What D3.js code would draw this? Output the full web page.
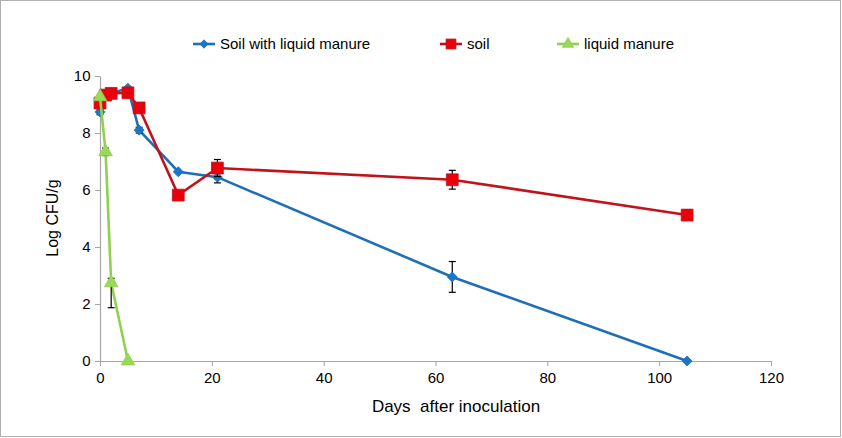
<!DOCTYPE html>
<html><head><meta charset="utf-8">
<script src="https://cdn.jsdelivr.net/npm/d3@7"></script>
<style>body{margin:0;background:#fff}svg{display:block}</style>
</head><body>
<svg id="c" width="842" height="438"></svg>
<script>
const seriesNames = ["Soil with liquid manure", "soil", "liquid manure"];
const blueDays = [0, 1, 2, 5, 7, 14, 21, 63, 105];
const blueVals = [8.74, 9.3, 9.4, 9.57, 8.1, 6.64, 6.45, 2.95, 0];
const blueErr  = [0.1, 0.05, 0.05, 0.05, 0.1, 0.05, 0.2, 0.54, 0];
const redDays = [0, 1, 2, 5, 7, 14, 21, 63, 105];
const redVals = [9.05, 9.33, 9.39, 9.41, 8.88, 5.82, 6.77, 6.36, 5.12];
const redErr  = [0.1, 0.05, 0.05, 0.05, 0.1, 0.1, 0.3, 0.33, 0.18];
const greenDays = [0, 1, 2, 5];
const greenVals = [9.27, 7.34, 2.74, 0];
const greenErrUp = [0.05, 0.13, 0.16, 0];
const greenErrDown = [0.05, 0.13, 0.87, 0];
const xTicks = [0, 20, 40, 60, 80, 100, 120];
const yTicks = [0, 2, 4, 6, 8, 10];

const svg = d3.select("#c");
const font = "'Liberation Sans', Arial, sans-serif";
svg.append("rect").attr("x",0.5).attr("y",0.5).attr("width",840).attr("height",436)
  .attr("fill","#fff").attr("stroke","#b0b0b0");

const x = d3.scaleLinear().domain([0,120]).range([100,771]);
const y = d3.scaleLinear().domain([0,10]).range([361,76]);

const xAxis = svg.append("g").attr("transform","translate(0,361)")
  .call(d3.axisBottom(x).tickValues(xTicks).tickSize(5).tickSizeOuter(0));
const yAxis = svg.append("g").attr("transform","translate(100,0)")
  .call(d3.axisLeft(y).tickValues(yTicks).tickSize(5).tickSizeOuter(0));
[xAxis,yAxis].forEach(a=>{
  a.select(".domain").attr("stroke","#a6a6a6").attr("stroke-width",1.2);
  a.selectAll(".tick line").attr("stroke","#a6a6a6");
  a.selectAll("text").attr("font-family",font).attr("font-size",15).attr("fill","#000");
});
xAxis.selectAll("text").attr("dy","0.95em");
yAxis.selectAll("text").attr("dx","-0.1em");

svg.append("text").attr("x",456).attr("y",412).attr("text-anchor","middle")
  .attr("font-family",font).attr("font-size",17).attr("xml:space","preserve")
  .text("Days  after inoculation");
svg.append("text").attr("transform","translate(58,218) rotate(-90)").attr("text-anchor","middle")
  .attr("font-family",font).attr("font-size",16).text("Log CFU/g");

const series = [
  {name:seriesNames[0], days:blueDays, vals:blueVals, up:blueErr, down:blueErr, line:"#1f6fb8", fill:"#1b75c9", sym:d3.symbolSquare, size:50, rot:45},
  {name:seriesNames[1], days:redDays, vals:redVals, up:redErr, down:redErr, line:"#c0141c", fill:"#e8000b", sym:d3.symbolSquare, size:140, rot:0},
  {name:seriesNames[2], days:greenDays, vals:greenVals, up:greenErrUp, down:greenErrDown, line:"#8fd14f", fill:"#9bd85a", sym:d3.symbolTriangle, size:80, rot:0}
];

const line = d3.line().x(d=>x(d[0])).y(d=>y(d[1]));
series.forEach(s=>{
  const pts = s.days.map((d,i)=>[d, s.vals[i], s.up[i], s.down[i]]);
  const g = svg.append("g");
  g.append("path").datum(pts).attr("d",line).attr("fill","none").attr("stroke",s.line).attr("stroke-width",2.6);
  pts.filter(p=>p[2]>0.08||p[3]>0.08).forEach(p=>{
    const cx = x(p[0]), t = y(p[1]+p[2]), b = y(p[1]-p[3]);
    g.append("line").attr("x1",cx).attr("x2",cx).attr("y1",t).attr("y2",b).attr("stroke","#000").attr("stroke-width",1.2);
    g.append("line").attr("x1",cx-3.5).attr("x2",cx+3.5).attr("y1",t).attr("y2",t).attr("stroke","#000").attr("stroke-width",1.2);
    g.append("line").attr("x1",cx-3.5).attr("x2",cx+3.5).attr("y1",b).attr("y2",b).attr("stroke","#000").attr("stroke-width",1.2);
  });
  g.selectAll("path.m").data(pts).join("path").attr("class","m")
    .attr("d",d3.symbol().type(s.sym).size(s.size))
    .attr("transform",p=>`translate(${x(p[0])},${y(p[1])}) rotate(${s.rot})`)
    .attr("fill",s.fill).attr("stroke",s.line).attr("stroke-width",0.8);
});

const legX = [193, 440, 557];
series.forEach((s,i)=>{
  const lx = legX[i], ly = 44;
  svg.append("line").attr("x1",lx).attr("x2",lx+22).attr("y1",ly).attr("y2",ly).attr("stroke",s.line).attr("stroke-width",2.6);
  svg.append("path").attr("d",d3.symbol().type(s.sym).size(s.size*0.7)).attr("transform",`translate(${lx+11},${ly}) rotate(${s.rot})`)
    .attr("fill",s.fill).attr("stroke",s.line).attr("stroke-width",0.8);
  svg.append("text").attr("x",lx+27).attr("y",ly+5).attr("font-family",font).attr("font-size",15).text(s.name);
});
</script>
</body></html>
